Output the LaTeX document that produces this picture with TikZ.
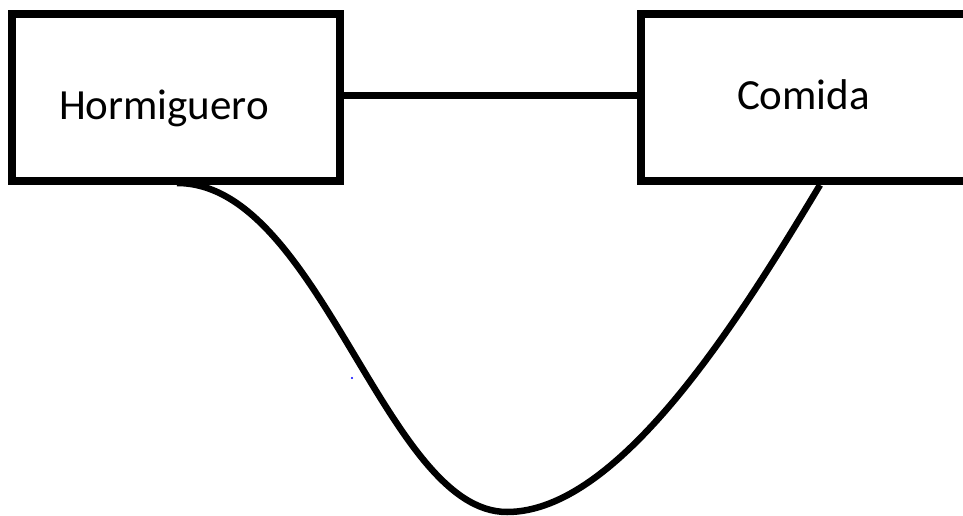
\documentclass[tikz,border=0pt]{standalone}
\usepackage{fontspec}
\setmainfont{Carlito}
\begin{document}
\begin{tikzpicture}[x=1pt,y=-1pt,
  boxstyle/.style={draw=black,line width=8pt,rectangle,inner sep=0pt,line join=miter},
  lbl/.style={anchor=base,inner sep=0pt,font=\fontsize{43}{50}\selectfont},
  wire/.style={draw=black,line width=7pt},
  curvestyle/.style={draw=black,line width=6.5pt}]
\useasboundingbox (0,0) rectangle (963,516);
\clip (0,0) rectangle (963,516);
\node[boxstyle,minimum width=327.5pt,minimum height=167pt] (hb) at (175.75,97.5) {};
\node[boxstyle,minimum width=359pt,minimum height=167pt] (cb) at (820.5,97.5) {};
\node[lbl] (ht) at (164,120) {Hormiguero};
\node[lbl] (ct) at (803.5,110) {Comida};
\draw[wire] (hb.east |- 0,96) -- (cb.west |- 0,96);
\coordinate (cs) at (177,183);
\coordinate (cm) at (507,512);
\coordinate (ce) at (820,185);
\draw[curvestyle] (cs) .. controls (320,183) and (385,512) .. (cm)
  .. controls (620,512) and (740,318) .. (ce);
\fill[blue] (352,378) circle (1.2pt);
\end{tikzpicture}
\end{document}
